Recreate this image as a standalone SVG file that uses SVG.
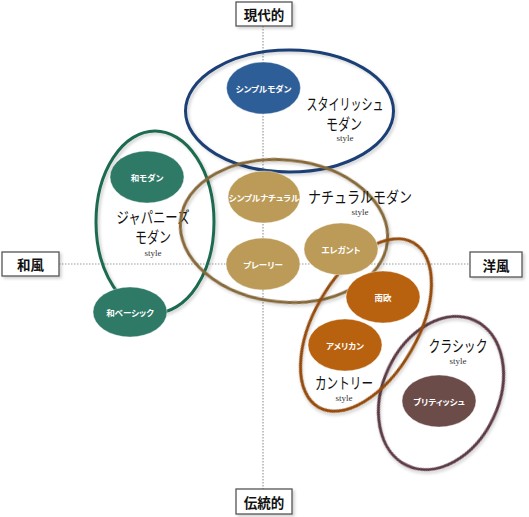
<svg xmlns="http://www.w3.org/2000/svg" width="529" height="517" viewBox="0 0 529 517">
<defs>
<filter id="sh" x="-20%" y="-20%" width="140%" height="140%">
<feDropShadow dx="2" dy="2" stdDeviation="1.5" flood-color="#000" flood-opacity="0.18"/>
</filter>
<style>
.axis{stroke:#9a9a9a;stroke-width:1.2;stroke-dasharray:1.5 1.5;fill:none}
.box{fill:#fff;stroke:#555;stroke-width:1.3;filter:url(#sh)}
.ax{font-family:"Noto Sans CJK JP",sans-serif;font-weight:700;font-size:13.5px;fill:#111;text-anchor:middle;dominant-baseline:central}
.ring{fill:none;stroke-width:3;filter:url(#sh)}
.dot{stroke:#fff;stroke-opacity:0.5;stroke-width:0.8}
.lbl{font-family:"Noto Sans CJK JP",sans-serif;font-weight:600;font-size:8.5px;fill:#fff;text-anchor:middle;dominant-baseline:central;font-feature-settings:"palt"}
.big{font-family:"Liberation Serif","Noto Sans CJK JP",serif;font-size:15.5px;fill:#111;text-anchor:middle;dominant-baseline:central}
.sty{font-family:"Liberation Serif",serif;font-size:9px;fill:#333;text-anchor:middle;dominant-baseline:central}
</style>
</defs>
<rect width="529" height="517" fill="#fff"/>
<g id="axes">
<line class="axis" x1="263" y1="26" x2="263" y2="489"/>
<line class="axis" x1="59" y1="264" x2="470" y2="264"/>
</g>
<g id="connectors"></g>
<g id="group-classic">
<ellipse class="ring" cx="441" cy="393" rx="58" ry="80" transform="rotate(25 441 393)" stroke="#5c3a45"/>
<text class="big" x="458" y="346" textLength="59" lengthAdjust="spacingAndGlyphs">クラシック</text>
<text class="sty" x="458" y="361">style</text>
</g>
<g id="group-japanese">
<ellipse class="ring" cx="155" cy="222" rx="59" ry="91" stroke="#1f6a4f"/>
<text class="big" x="153" y="217" textLength="73" lengthAdjust="spacingAndGlyphs">ジャパニーズ</text>
<text class="big" x="153" y="237" textLength="36" lengthAdjust="spacingAndGlyphs">モダン</text>
<text class="sty" x="153" y="253">style</text>
</g>
<g id="group-stylish">
<ellipse class="ring" cx="289.5" cy="111" rx="104" ry="61" stroke="#1d3f75"/>
<text class="big" x="345" y="104" textLength="77" lengthAdjust="spacingAndGlyphs">スタイリッシュ</text>
<text class="big" x="344" y="124" textLength="36" lengthAdjust="spacingAndGlyphs">モダン</text>
<text class="sty" x="345" y="138">style</text>
</g>
<g id="group-natural">
<ellipse class="ring" cx="284" cy="231" rx="104" ry="71" transform="rotate(6 284 231)" stroke="#86693a"/>
<text class="big" x="360" y="197" textLength="104" lengthAdjust="spacingAndGlyphs">ナチュラルモダン</text>
<text class="sty" x="360" y="212">style</text>
</g>
<g id="group-country">
<ellipse class="ring" cx="366" cy="325" rx="52" ry="95" transform="rotate(30 366 325)" stroke="#944b0c"/>
<text class="big" x="344" y="383" textLength="58" lengthAdjust="spacingAndGlyphs">カントリー</text>
<text class="sty" x="344" y="398">style</text>
</g>
<g id="simple-modern">
<ellipse class="dot" cx="263.5" cy="88" rx="37" ry="26" fill="#2d5e98"/>
<text class="lbl" x="263.5" y="88">シンプルモダン</text>
</g>
<g id="wa-modern">
<ellipse class="dot" cx="147" cy="177" rx="37" ry="26" fill="#2e7a66"/>
<text class="lbl" x="147" y="177">和モダン</text>
</g>
<g id="wa-basic">
<ellipse class="dot" cx="130" cy="312" rx="37" ry="25" fill="#2e7a66"/>
<text class="lbl" x="130" y="312">和ベーシック</text>
</g>
<g id="simple-natural">
<ellipse class="dot" cx="264" cy="197" rx="36" ry="26" fill="#bc9b58"/>
<text class="lbl" x="264" y="197">シンプルナチュラル</text>
</g>
<g id="prairie">
<ellipse class="dot" cx="263" cy="264" rx="37" ry="26" fill="#bc9b58"/>
<text class="lbl" x="263" y="264">プレーリー</text>
</g>
<g id="elegant">
<ellipse class="dot" cx="341" cy="249" rx="37" ry="26" fill="#bc9b58"/>
<text class="lbl" x="341" y="249">エレガント</text>
</g>
<g id="nanou">
<ellipse class="dot" cx="383" cy="297" rx="37" ry="26" fill="#b8620f"/>
<text class="lbl" x="383" y="297">南欧</text>
</g>
<g id="american">
<ellipse class="dot" cx="345" cy="345" rx="37" ry="26" fill="#b8620f"/>
<text class="lbl" x="345" y="345">アメリカン</text>
</g>
<g id="british">
<ellipse class="dot" cx="439" cy="401" rx="37" ry="26" fill="#6b4c48"/>
<text class="lbl" x="439" y="401">ブリティッシュ</text>
</g>
<g id="label-top">
<rect class="box" x="236" y="2" width="56" height="24"/>
<text class="ax" x="264" y="14">現代的</text>
</g>
<g id="label-bottom">
<rect class="box" x="236" y="489" width="56" height="25"/>
<text class="ax" x="264" y="501.5">伝統的</text>
</g>
<g id="label-left">
<rect class="box" x="2" y="252" width="57" height="24"/>
<text class="ax" x="30.5" y="264">和風</text>
</g>
<g id="label-right">
<rect class="box" x="470" y="252" width="52" height="25"/>
<text class="ax" x="496" y="264.5">洋風</text>
</g>
</svg>
